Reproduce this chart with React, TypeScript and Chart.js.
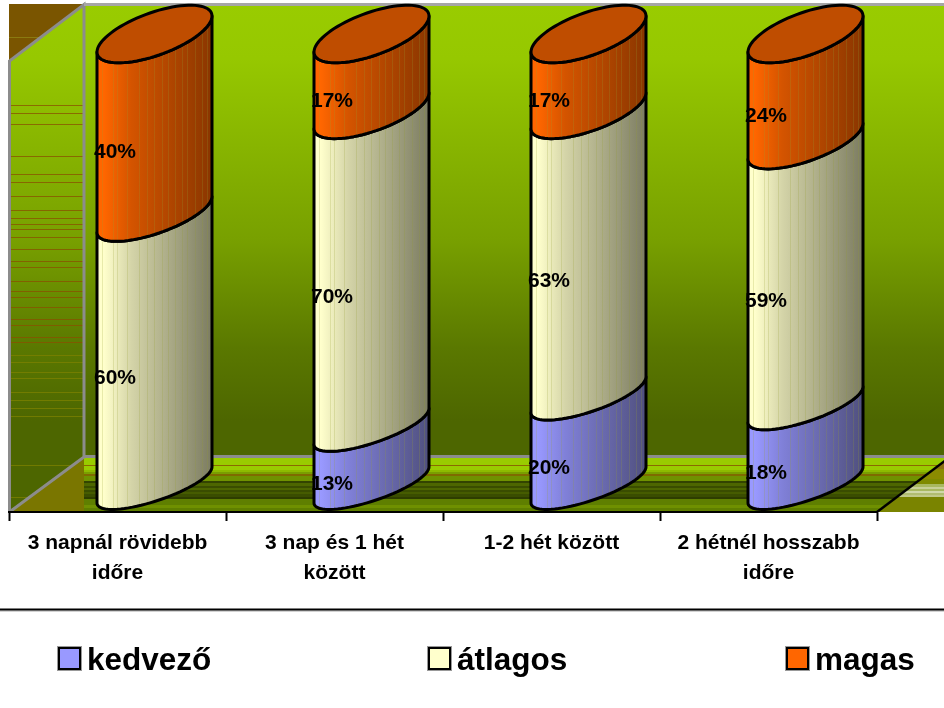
import React, { useEffect, useRef } from "react";
import { Chart, registerables } from "chart.js";

Chart.register(...registerables);

const categories: string[][] = [
  ["3 napnál rövidebb", "időre"],
  ["3 nap és 1 hét", "között"],
  ["1-2 hét között"],
  ["2 hétnél hosszabb", "időre"],
];
const seriesNames = ["kedvező", "átlagos", "magas"];
const kedvezo = [0, 13, 20, 18];
const atlagos = [60, 70, 63, 59];
const magas = [40, 17, 17, 24];
const rawSeries = [kedvezo, atlagos, magas];
const seriesColors = ["#9999FF", "#FFFFCC", "#FF6600"];
const seriesMid = ["#8080D8", "#D4D4A8", "#D45400"];
const seriesDark = ["#50507F", "#7C7C62", "#8A3600"];
const seriesTop = ["#7373BF", "#BFBF99", "#BF4D00"];

const totals = categories.map((_, i) => rawSeries.reduce((s, a) => s + a[i], 0));
const percentOf = (a: number[]) => a.map((v, i) => (v / totals[i]) * 100);

const FONT = '"Liberation Sans", Arial, sans-serif';
const DX = 37.5;
const DY = -27;
const SKEW = 18;
const stripeOffsets = [5, 16, 20, 30, 42, 50, 57, 65, 71, 78, 85, 90, 98, 105, 110];
const legendPlaces = [
  { box: 59, text: 87 },
  { box: 429, text: 457 },
  { box: 787, text: 815 },
];
const floorBands: [number, number, string][] = [
  [458, 12, "#99CC00"],
  [465, 1, "#8A6A00"],
  [470, 2, "#8DBB00"],
  [472, 3, "#7A9E00"],
  [474, 2, "#7F6A00"],
  [476, 5, "#6F9200"],
  [481, 2, "#334400"],
  [483, 3, "#4D6600"],
  [486, 2, "#3A4D00"],
  [488, 2, "#4D6600"],
  [490, 2, "#3A4D00"],
  [492, 2, "#465C00"],
  [494, 3, "#3A4D00"],
  [497, 2, "#2E3D00"],
  [499, 6, "#5F7F00"],
  [505, 3, "#6F9000"],
  [508, 4, "#5F7F00"],
];
const rightBands: [number, number, string][] = [
  [457, 12, "#8A7010"],
  [469, 10, "#8B8B00"],
  [479, 5, "#7F8A00"],
  [484, 3, "#A8B860"],
  [487, 2, "#C8D098"],
  [489, 2, "#A8B860"],
  [491, 2, "#D0D8A8"],
  [493, 2, "#B0BC70"],
  [495, 2, "#C0C888"],
  [497, 15, "#7A8400"],
];
const wallLines = [105, 113, 124, 156, 174, 182, 196, 210, 218, 224, 229, 237, 249, 261, 267, 281, 291, 297, 307, 319, 325, 337, 342];
const wallLinesLow = [355, 362, 372, 378, 392, 400, 408, 416, 465, 497];

function wallGradient(ctx: CanvasRenderingContext2D) {
  const g = ctx.createLinearGradient(0, 4, 0, 457);
  g.addColorStop(0, "rgb(153,204,0)");
  g.addColorStop(0.12, "rgb(150,200,0)");
  g.addColorStop(0.52, "rgb(120,160,0)");
  g.addColorStop(0.76, "rgb(90,120,0)");
  g.addColorStop(0.92, "rgb(77,102,0)");
  g.addColorStop(1, "rgb(77,102,0)");
  return g;
}

function poly(ctx: CanvasRenderingContext2D, pts: number[][]) {
  ctx.beginPath();
  pts.forEach((p, i) => (i ? ctx.lineTo(p[0], p[1]) : ctx.moveTo(p[0], p[1])));
  ctx.closePath();
}

function drawRoom(ctx: CanvasRenderingContext2D) {
  ctx.save();
  ctx.fillStyle = "#fff";
  ctx.fillRect(0, 0, 944, 708);
  // corner above the left wall
  ctx.fillStyle = "#7A5500";
  poly(ctx, [[9, 4], [84, 4], [9, 61]]);
  ctx.fill();
  ctx.fillStyle = "#8A7A10";
  ctx.fillRect(9, 37, 34, 1);
  // walls
  ctx.fillStyle = wallGradient(ctx);
  ctx.fillRect(84, 4, 860, 453);
  poly(ctx, [[9, 61], [84, 4], [84, 457], [9, 512]]);
  ctx.fill();
  ctx.fillStyle = "rgba(138,80,0,0.75)";
  wallLines.forEach((y) => ctx.fillRect(10, y, 73, 1));
  ctx.fillStyle = "rgba(125,130,0,0.75)";
  wallLinesLow.forEach((y) => ctx.fillRect(10, y, 73, 1));
  // floor
  ctx.save();
  poly(ctx, [[84, 457], [944, 457], [944, 512], [84, 512]]);
  ctx.clip();
  floorBands.forEach(([y, h, c]) => {
    ctx.fillStyle = c;
    ctx.fillRect(84, y, 860, h);
  });
  ctx.restore();
  ctx.fillStyle = "#7A7600";
  poly(ctx, [[9, 512], [84, 457], [84, 512]]);
  ctx.fill();
  // right side of the floor
  ctx.save();
  poly(ctx, [[877, 512], [950, 457], [950, 512]]);
  ctx.clip();
  rightBands.forEach(([y, h, c]) => {
    ctx.fillStyle = c;
    ctx.fillRect(870, y, 80, h);
  });
  ctx.restore();
  ctx.strokeStyle = "#000";
  ctx.lineWidth = 2.5;
  ctx.beginPath();
  ctx.moveTo(877, 512);
  ctx.lineTo(950, 457);
  ctx.stroke();
  // frame
  ctx.strokeStyle = "#8C8C8C";
  ctx.lineWidth = 3;
  ctx.beginPath();
  ctx.moveTo(9.5, 512);
  ctx.lineTo(9.5, 61);
  ctx.lineTo(84, 4.5);
  ctx.lineTo(84, 457);
  ctx.lineTo(9.5, 512);
  ctx.stroke();
  ctx.strokeStyle = "#A6A6A6";
  ctx.beginPath();
  ctx.moveTo(84, 4.5);
  ctx.lineTo(944, 4.5);
  ctx.stroke();
  ctx.strokeStyle = "#8C8C8C";
  ctx.beginPath();
  ctx.moveTo(84, 456.5);
  ctx.lineTo(944, 456.5);
  ctx.stroke();
  ctx.restore();
}

function frontArc(ctx: CanvasRenderingContext2D, cx: number, cy: number, a: number, b: number, fromLeft: boolean, move: boolean) {
  for (let k = 0; k <= 40; k++) {
    const t = fromLeft ? Math.PI - (k / 40) * Math.PI : (k / 40) * Math.PI;
    const x = cx + a * Math.cos(t);
    const y = cy - SKEW * Math.cos(t) + b * Math.sin(t);
    if (k === 0 && move) ctx.moveTo(x, y);
    else ctx.lineTo(x, y);
  }
}

const depthOf = (cy: number) => 16.5 + ((485 - cy) / 452) * 6;

const roomAndBars = {
  id: "roomAndBars",
  beforeDraw(chart: any) {
    drawRoom(chart.ctx);
  },
  beforeDatasetsDraw(chart: any) {
    const ctx: CanvasRenderingContext2D = chart.ctx;
    const count = categories.length;
    for (let i = 0; i < count; i++) {
      let last: any = null;
      chart.data.datasets.forEach((ds: any, d: number) => {
        const el = chart.getDatasetMeta(d).data[i];
        if (rawSeries[d][i] <= 0) return;
        const cx = el.x + DX - 0.5;
        const a = el.width / 2;
        const yb = el.base + DY;
        const yt = el.y + DY;
        ctx.save();
        ctx.beginPath();
        frontArc(ctx, cx, yb, a, depthOf(yb), true, true);
        frontArc(ctx, cx, yt, a, depthOf(yt), false, false);
        ctx.closePath();
        const g = ctx.createLinearGradient(cx - a, 0, cx + a, 0);
        g.addColorStop(0, ds.backgroundColor);
        g.addColorStop(0.06, ds.backgroundColor);
        g.addColorStop(0.3, seriesMid[d]);
        g.addColorStop(1, seriesDark[d]);
        ctx.fillStyle = g;
        ctx.fill();
        ctx.save();
        ctx.clip();
        ctx.fillStyle = "rgba(150,160,50,0.22)";
        stripeOffsets.forEach((o) => ctx.fillRect(cx - a + o, yt - 40, 1, yb - yt + 80));
        ctx.restore();
        ctx.strokeStyle = "#000";
        ctx.lineWidth = 3;
        ctx.lineJoin = "round";
        ctx.stroke();
        ctx.restore();
        last = { cx, a, yt, d };
      });
      if (last) {
        const { cx, a, yt, d } = last;
        const b = depthOf(yt);
        ctx.save();
        ctx.beginPath();
        for (let k = 0; k <= 80; k++) {
          const t = (k / 80) * Math.PI * 2;
          const x = cx + a * Math.cos(t);
          const y = yt - SKEW * Math.cos(t) + b * Math.sin(t);
          if (k === 0) ctx.moveTo(x, y);
          else ctx.lineTo(x, y);
        }
        ctx.closePath();
        ctx.fillStyle = seriesTop[d];
        ctx.fill();
        ctx.strokeStyle = "#000";
        ctx.lineWidth = 3;
        ctx.stroke();
        ctx.restore();
      }
    }
    // value labels
    ctx.save();
    ctx.fillStyle = "#000";
    ctx.font = `bold 21px ${FONT}`;
    ctx.textAlign = "center";
    ctx.textBaseline = "middle";
    chart.data.datasets.forEach((_: any, d: number) => {
      chart.getDatasetMeta(d).data.forEach((el: any, i: number) => {
        const v = rawSeries[d][i];
        if (v <= 0) return;
        const x = el.x + DX - 0.5 - el.width / 2 + 18;
        const y = (el.y + el.base) / 2 + DY + 28.5;
        ctx.fillText(`${v}%`, x, y);
      });
    });
    ctx.restore();
    return false;
  },
  afterDraw(chart: any) {
    const ctx: CanvasRenderingContext2D = chart.ctx;
    ctx.save();
    ctx.fillStyle = "#000";
    ctx.fillRect(0, 608.5, 944, 2);
    ctx.fillStyle = "rgba(0,0,0,0.35)";
    ctx.fillRect(0, 610.5, 944, 1);
    ctx.textBaseline = "middle";
    ctx.textAlign = "left";
    ctx.font = `bold 31.5px ${FONT}`;
    chart.data.datasets.forEach((ds: any, d: number) => {
      const p = legendPlaces[d];
      ctx.strokeStyle = "#999";
      ctx.lineWidth = 1;
      ctx.strokeRect(p.box - 1.5, 646.5, 24, 24);
      ctx.fillStyle = ds.backgroundColor;
      ctx.fillRect(p.box, 648, 21, 21);
      ctx.strokeStyle = "#000";
      ctx.lineWidth = 2;
      ctx.strokeRect(p.box, 648, 21, 21);
      ctx.fillStyle = "#000";
      ctx.fillText(ds.label, p.text, 661);
    });
    ctx.restore();
  },
};

export default function App() {
  const ref = useRef<HTMLCanvasElement>(null);
  useEffect(() => {
    const chart = new Chart(ref.current as HTMLCanvasElement, {
      type: "bar",
      data: {
        labels: categories as any,
        datasets: rawSeries.map((a, d) => ({
          label: seriesNames[d],
          data: percentOf(a),
          backgroundColor: seriesColors[d],
          barPercentage: 115 / 217,
          categoryPercentage: 1,
        })),
      },
      options: {
        animation: false,
        responsive: false,
        layout: { padding: { left: 9, right: 67, top: 61, bottom: 0 } },
        plugins: { legend: { display: false }, tooltip: { enabled: false }, title: { display: false } },
        scales: {
          x: {
            stacked: true,
            border: { color: "#000", width: 2 },
            grid: { drawOnChartArea: false, color: "#000", tickColor: "#000", tickLength: 9, tickWidth: 2 },
            ticks: {
              color: "#000",
              autoSkip: false,
              maxRotation: 0,
              minRotation: 0,
              padding: 7,
              font: { family: FONT, weight: "bold", size: 21, lineHeight: 1.42 },
            },
            afterFit(scale: any) {
              scale.height = 196;
            },
          },
          y: { stacked: true, display: false, min: 0, max: 100 },
        },
      },
      plugins: [roomAndBars as any],
    });
    return () => chart.destroy();
  }, []);
  return (
    <canvas
      ref={ref}
      width={944}
      height={708}
      style={{ position: "fixed", left: 0, top: 0, display: "block" }}
    />
  );
}
